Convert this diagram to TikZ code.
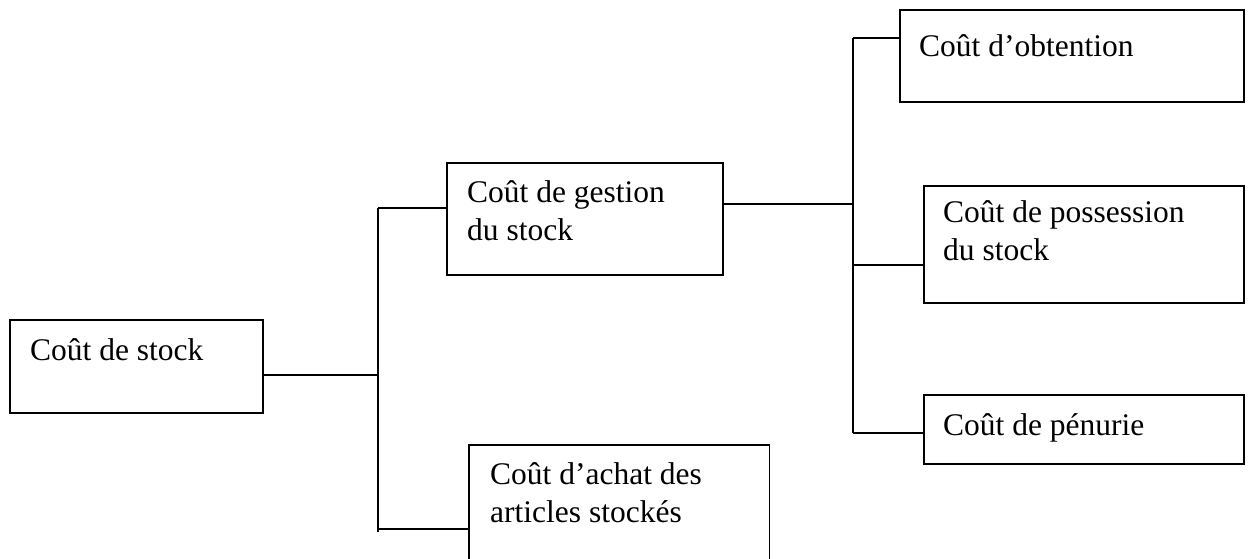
\documentclass[tikz,border=0pt]{standalone}
\usepackage{fontspec}
\setmainfont{Liberation Serif}
\begin{document}
\begin{tikzpicture}[x=1pt,y=-1pt,
  box/.style={draw=black, line width=1.5pt, rectangle, inner sep=0pt, anchor=north west},
  lbl/.style={anchor=base west, inner sep=0pt, align=left, font=\fontsize{31.5}{38}\selectfont},
  conn/.style={draw=black, line width=1.5pt}]
\useasboundingbox[fill=white] (0,0) rectangle (1248,558);
% boxes
\node[box, minimum width=253pt, minimum height=93pt] (stock) at (9,319) {};
\node[box, minimum width=276pt, minimum height=112pt] (gestion) at (446,162) {};
\node[box, draw=none, minimum width=299pt, minimum height=113pt] (achat) at (469,445) {};
\draw[conn] (achat.south west) -- (achat.north west) -- (achat.north east) -- (achat.south east);
\node[box, minimum width=344pt, minimum height=92pt] (obt) at (899,9) {};
\node[box, minimum width=320pt, minimum height=117pt] (poss) at (923,185) {};
\node[box, minimum width=320pt, minimum height=69pt] (pen) at (923,394) {};
% labels (base = baseline of the last line)
\node[lbl] (tstock) at ([shift={(21,41)}]stock.north west) {Coût de stock};
\node[lbl] (tgestion) at ([shift={(21,78)}]gestion.north west) {Coût de gestion\\du stock};
\node[lbl] (tachat) at ([shift={(21,77)}]achat.north west) {Coût d’achat des\\articles stockés};
\node[lbl] (tobt) at ([shift={(20,47)}]obt.north west) {Coût d’obtention};
\node[lbl] (tposs) at ([shift={(20,75)}]poss.north west) {Coût de possession\\du stock};
\node[lbl] (tpen) at ([shift={(20,41)}]pen.north west) {Coût de pénurie};
% junctions
\coordinate (ja) at (378,375);
\coordinate (jatop) at (378,208);
\coordinate (jabot) at (378,532);
\coordinate (jb) at (853,204);
\coordinate (jbtop) at (853,38);
\coordinate (jbmid) at (853,265);
\coordinate (jbbot) at (853,433);
% connectors
\draw[conn] (stock.east |- ja) -- (ja);
\draw[conn] (jatop) -- (jabot);
\draw[conn] (jatop) -- (gestion.west |- jatop);
\draw[conn] (achat.west |- 0,529) -- (378,529);
\draw[conn] (gestion.east |- jb) -- (jb);
\draw[conn] (jbtop) -- (jbbot);
\draw[conn] (jbtop) -- (obt.west |- jbtop);
\draw[conn] (jbmid) -- (poss.west |- jbmid);
\draw[conn] (jbbot) -- (pen.west |- jbbot);
\end{tikzpicture}
\end{document}
